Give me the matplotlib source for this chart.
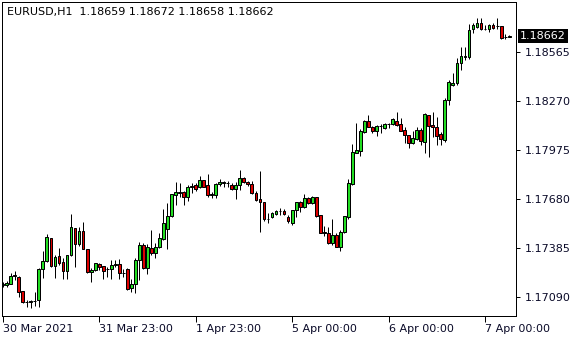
import matplotlib
matplotlib.use("Agg")
import matplotlib.pyplot as plt
import matplotlib.transforms as mtransforms
import numpy as np

# EURUSD H1 bars (oldest first)
OPEN = [
    1.17166, 1.17164, 1.17168, 1.17222, 1.17214, 1.17126, 1.17060, 1.17062, 1.17066, 1.17074,
    1.17259, 1.17309, 1.17445, 1.17278, 1.17337, 1.17303, 1.17248, 1.17343, 1.17505, 1.17409,
    1.17489, 1.17381, 1.17240, 1.17254, 1.17290, 1.17278, 1.17260, 1.17259, 1.17286, 1.17290,
    1.17234, 1.17260, 1.17144, 1.17170, 1.17315, 1.17405, 1.17265, 1.17385, 1.17355, 1.17395,
    1.17439, 1.17499, 1.17581, 1.17708, 1.17720, 1.17722, 1.17696, 1.17752, 1.17766, 1.17756,
    1.17796, 1.17766, 1.17708, 1.17706, 1.17770, 1.17776, 1.17780, 1.17766, 1.17740, 1.17766,
    1.17806, 1.17782, 1.17772, 1.17720, 1.17680, 1.17666, 1.17560, 1.17575, 1.17590, 1.17609,
    1.17611, 1.17572, 1.17535, 1.17616, 1.17666, 1.17632, 1.17686, 1.17656, 1.17692, 1.17584,
    1.17483, 1.17475, 1.17419, 1.17465, 1.17395, 1.17483, 1.17575, 1.17772, 1.17957, 1.17973,
    1.18087, 1.18151, 1.18117, 1.18093, 1.18121, 1.18111, 1.18131, 1.18131, 1.18153, 1.18131,
    1.18097, 1.18067, 1.18017, 1.18043, 1.18097, 1.18027, 1.18187, 1.18127, 1.18113, 1.18073,
    1.18037, 1.18278, 1.18368, 1.18378, 1.18499, 1.18535, 1.18539, 1.18703, 1.18719, 1.18739,
    1.18705, 1.18705, 1.18729, 1.18723, 1.18725, 1.18655, 1.18659,
]
HIGH = [
    1.17182, 1.17188, 1.17234, 1.17247, 1.17220, 1.17126, 1.17074, 1.17074, 1.17120, 1.17265,
    1.17369, 1.17471, 1.17445, 1.17345, 1.17385, 1.17325, 1.17345, 1.17591, 1.17505, 1.17515,
    1.17541, 1.17381, 1.17265, 1.17295, 1.17295, 1.17278, 1.17271, 1.17315, 1.17315, 1.17321,
    1.17260, 1.17265, 1.17198, 1.17325, 1.17425, 1.17419, 1.17409, 1.17495, 1.17419, 1.17475,
    1.17620, 1.17656, 1.17712, 1.17786, 1.17776, 1.17732, 1.17766, 1.17776, 1.17776, 1.17820,
    1.17796, 1.17832, 1.17726, 1.17776, 1.17800, 1.17792, 1.17792, 1.17776, 1.17786, 1.17856,
    1.17812, 1.17792, 1.17790, 1.17730, 1.17852, 1.17666, 1.17596, 1.17605, 1.17615, 1.17626,
    1.17620, 1.17585, 1.17616, 1.17666, 1.17672, 1.17712, 1.17692, 1.17700, 1.17692, 1.17584,
    1.17519, 1.17511, 1.17560, 1.17475, 1.17495, 1.17579, 1.17800, 1.18013, 1.18137, 1.18101,
    1.18157, 1.18188, 1.18121, 1.18127, 1.18131, 1.18137, 1.18141, 1.18167, 1.18207, 1.18167,
    1.18113, 1.18067, 1.18093, 1.18113, 1.18107, 1.18201, 1.18187, 1.18207, 1.18173, 1.18087,
    1.18288, 1.18398, 1.18443, 1.18529, 1.18599, 1.18595, 1.18735, 1.18739, 1.18769, 1.18769,
    1.18729, 1.18733, 1.18739, 1.18769, 1.18725, 1.18673, 1.18672,
]
LOW = [
    1.17150, 1.17154, 1.17168, 1.17194, 1.17094, 1.17058, 1.17033, 1.17027, 1.17038, 1.17033,
    1.17204, 1.17303, 1.17274, 1.17204, 1.17284, 1.17200, 1.17198, 1.17340, 1.17274, 1.17401,
    1.17381, 1.17234, 1.17180, 1.17250, 1.17254, 1.17200, 1.17214, 1.17200, 1.17274, 1.17200,
    1.17214, 1.17134, 1.17124, 1.17114, 1.17194, 1.17259, 1.17230, 1.17345, 1.17325, 1.17385,
    1.17435, 1.17379, 1.17575, 1.17646, 1.17696, 1.17646, 1.17672, 1.17716, 1.17732, 1.17746,
    1.17752, 1.17696, 1.17686, 1.17686, 1.17760, 1.17756, 1.17756, 1.17736, 1.17682, 1.17736,
    1.17776, 1.17760, 1.17710, 1.17670, 1.17485, 1.17550, 1.17535, 1.17566, 1.17585, 1.17585,
    1.17584, 1.17540, 1.17525, 1.17575, 1.17605, 1.17626, 1.17650, 1.17652, 1.17575, 1.17475,
    1.17459, 1.17411, 1.17405, 1.17395, 1.17369, 1.17479, 1.17560, 1.17766, 1.17957, 1.17943,
    1.18081, 1.18113, 1.18081, 1.18063, 1.18081, 1.18103, 1.18107, 1.18127, 1.18123, 1.18089,
    1.18021, 1.17987, 1.18011, 1.18037, 1.18007, 1.17957, 1.17937, 1.18057, 1.18007, 1.18007,
    1.18027, 1.18248, 1.18362, 1.18368, 1.18459, 1.18519, 1.18523, 1.18679, 1.18709, 1.18699,
    1.18699, 1.18689, 1.18705, 1.18705, 1.18643, 1.18643, 1.18658,
]
CLOSE = [
    1.17170, 1.17176, 1.17220, 1.17220, 1.17124, 1.17060, 1.17062, 1.17066, 1.17070, 1.17259,
    1.17309, 1.17451, 1.17278, 1.17331, 1.17298, 1.17248, 1.17343, 1.17511, 1.17409, 1.17489,
    1.17381, 1.17240, 1.17254, 1.17295, 1.17271, 1.17248, 1.17262, 1.17283, 1.17289, 1.17234,
    1.17236, 1.17142, 1.17170, 1.17315, 1.17405, 1.17265, 1.17391, 1.17355, 1.17395, 1.17445,
    1.17535, 1.17581, 1.17710, 1.17722, 1.17721, 1.17696, 1.17752, 1.17762, 1.17742, 1.17796,
    1.17756, 1.17706, 1.17710, 1.17770, 1.17782, 1.17782, 1.17776, 1.17740, 1.17766, 1.17806,
    1.17782, 1.17770, 1.17716, 1.17676, 1.17666, 1.17560, 1.17562, 1.17595, 1.17611, 1.17610,
    1.17590, 1.17551, 1.17616, 1.17666, 1.17636, 1.17686, 1.17656, 1.17696, 1.17579, 1.17479,
    1.17475, 1.17415, 1.17463, 1.17395, 1.17483, 1.17579, 1.17776, 1.17963, 1.17977, 1.18091,
    1.18151, 1.18113, 1.18093, 1.18121, 1.18122, 1.18131, 1.18132, 1.18161, 1.18127, 1.18093,
    1.18067, 1.18017, 1.18047, 1.18097, 1.18033, 1.18193, 1.18123, 1.18113, 1.18063, 1.18043,
    1.18278, 1.18388, 1.18378, 1.18499, 1.18543, 1.18543, 1.18699, 1.18729, 1.18739, 1.18705,
    1.18706, 1.18729, 1.18709, 1.18725, 1.18653, 1.18659, 1.18662,
]

PRICE_TICKS = [1.17090, 1.17385, 1.17680, 1.17975, 1.18270, 1.18565]
TIME_TICKS = [0, 24, 48, 72, 96, 120]  # bar index
TIME_LABELS = ["30 Mar 2021", "31 Mar 23:00", "1 Apr 23:00",
               "5 Apr 00:00", "6 Apr 00:00", "7 Apr 00:00"]
SYMBOL = "EURUSD,H1"

BULL = "#22dd22"
BEAR = "#dd0000"
TEXT = "#0a0a28"

plt.rcParams["font.family"] = ["DejaVu Sans"]

fig = plt.figure(figsize=(5.8, 3.4), dpi=100)
ax = fig.add_axes([2 / 580, 24 / 340, 514 / 580, 314 / 340])

o = np.array(OPEN)
h = np.array(HIGH)
l = np.array(LOW)
c = np.array(CLOSE)
x = np.arange(len(o))
up = c >= o
colors = np.where(up, BULL, BEAR)

px = 72 / 100  # one pixel in points
ax.vlines(x, l, h, color="black", linewidth=px, zorder=2)
ax.bar(x, np.abs(c - o), bottom=np.minimum(o, c), width=0.7,
       color=colors, edgecolor="black", linewidth=px, zorder=3)

ax.set_xlim(-0.17, 127.7)
ax.set_ylim(1.16977, 1.18868)

ax.yaxis.tick_right()
ax.set_yticks(PRICE_TICKS)
ax.set_yticklabels([f"{v:.5f}" for v in PRICE_TICKS])
ax.set_xticks(TIME_TICKS)
ax.set_xticklabels(TIME_LABELS, ha="left")
ax.tick_params(axis="y", direction="out", length=3, width=px, pad=3,
               labelsize=8, labelcolor=TEXT)
ax.tick_params(axis="x", direction="out", length=4, width=px, pad=2,
               labelsize=8, labelcolor=TEXT)
for sp in ax.spines.values():
    sp.set_linewidth(px)
    sp.set_color("black")

# current price marker on the price scale
last = CLOSE[-1]
trans = mtransforms.blended_transform_factory(ax.transAxes, ax.transData)
ax.text(1.0075, last, f"{last:.5f}", transform=trans, ha="left", va="center",
        fontsize=8, color="white", clip_on=False, zorder=10,
        bbox=dict(facecolor="black", edgecolor="none", boxstyle="square,pad=0.2"))

# header line: symbol + OHLC of the last bar
fig.text(7 / 580, 1 - 12.5 / 340,
         f"{SYMBOL}  {OPEN[-1]:.5f} {HIGH[-1]:.5f} {LOW[-1]:.5f} {CLOSE[-1]:.5f}",
         ha="left", va="center", fontsize=8, color="black")

fig.savefig("out.png", dpi=100)
